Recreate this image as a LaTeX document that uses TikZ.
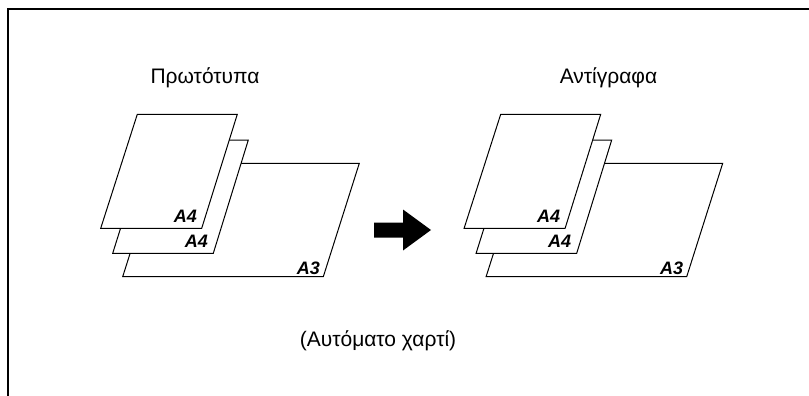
\documentclass[tikz,border=0pt]{standalone}
\usepackage{fontspec}
\setmainfont{Liberation Sans}
\begin{document}
\begin{tikzpicture}[x=1pt,y=-1pt,
  sheet/.style={draw=black,fill=white,line width=1pt,line join=miter},
  size/.style={font=\fontsize{18}{18}\selectfont\bfseries\itshape,inner sep=0pt,anchor=base east},
  title/.style={font=\fontsize{21}{21}\selectfont,inner sep=0pt,anchor=base}]
\useasboundingbox (0,0) rectangle (809,396);
\draw[line width=2pt] (8,396) -- (8,9) -- (809,9);
\foreach \dx/\nm in {0/l,363.4/r}{
\begin{scope}[xshift=\dx pt]
  \draw[sheet] (122.7,276.7) -- (323.3,276.7) -- (359.3,163.3) -- (158.7,163.3) -- cycle;
  \draw[sheet] (112.7,253.3) -- (213.3,253.3) -- (248.3,140) -- (148.3,140) -- cycle;
  \draw[sheet] (100.7,228.3) -- (201.7,228.3) -- (237.3,114.3) -- (137.3,114.3) -- cycle;
  \node[size] (\nm a4top) at (197,222) {A4};
  \node[size] (\nm a4mid) at (208,247) {A4};
  \node[size] (\nm a3) at (320,274) {A3};
\end{scope}
}
\node[title] (orig) at (205,83.5) {Πρωτότυπα};
\node[title] (copy) at (608.5,83.5) {Αντίγραφα};
\node[title] (auto) at (378,346) {(Αυτόματο χαρτί)};
\fill[black] (374,222.5) -- (403,222.5) -- (403,209.5) -- (431,230) -- (403,250.5) -- (403,237.5) -- (374,237.5) -- cycle;
\end{tikzpicture}
\end{document}
